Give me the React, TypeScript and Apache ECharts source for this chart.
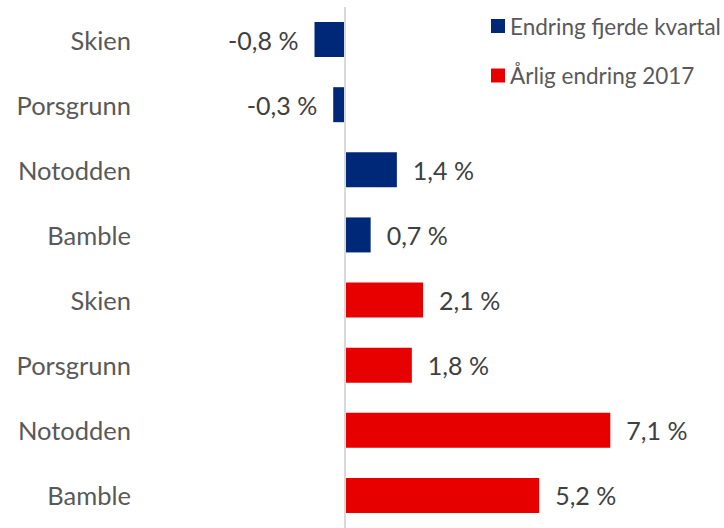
import React, { useEffect, useRef } from "react";
import * as echarts from "echarts";

const categories = ["Skien", "Porsgrunn", "Notodden", "Bamble", "Skien", "Porsgrunn", "Notodden", "Bamble"];
const quarterChange = [-0.8, -0.3, 1.4, 0.7, null, null, null, null];
const annualChange = [null, null, null, null, 2.1, 1.8, 7.1, 5.2];
const seriesNames = ["Endring fjerde kvartal", "Årlig endring 2017"];

const FONT = "Lato";

function toItems(vals: (number | null)[]) {
  return vals.map((v) =>
    v == null ? null : { value: v, label: { position: v < 0 ? "left" : "right" } }
  );
}

export default function App() {
  const ref = useRef<HTMLDivElement>(null);
  useEffect(() => {
    const chart = echarts.init(ref.current!, undefined, { renderer: "svg" });
    const label = {
      show: true,
      distance: 16,
      color: "#404040",
      fontFamily: FONT,
      fontSize: 25,
      formatter: (p: any) => p.value.toFixed(1).replace(".", ",") + " %",
    };
    chart.setOption({
      animation: false,
      textStyle: { fontFamily: FONT },
      grid: { left: 307, width: 337, top: 7, height: 524 },
      legend: {
        orient: "vertical",
        left: 491,
        top: 13,
        padding: 0,
        itemWidth: 14,
        itemHeight: 14,
        itemGap: 23.5,
        icon: "rect",
        textStyle: { color: "#595959", fontSize: 22.5, fontFamily: FONT, lineHeight: 26 },
        data: seriesNames,
      },
      xAxis: {
        type: "value",
        min: -1,
        max: 8,
        show: false,
      },
      yAxis: {
        type: "category",
        inverse: true,
        data: categories,
        axisLine: { show: false },
        axisTick: { show: false },
        splitLine: { show: false },
        axisLabel: {
          margin: 176,
          color: "#595959",
          fontSize: 25.5,
          fontFamily: FONT,
        },
      },
      series: [
        {
          name: seriesNames[0],
          type: "bar",
          data: toItems(quarterChange),
          barWidth: 35,
          barGap: "-100%",
          itemStyle: { color: "#002878" },
          label,
          markLine: {
            silent: true,
            symbol: "none",
            label: { show: false },
            lineStyle: { color: "#d9d9d9", width: 2, type: "solid" },
            data: [{ xAxis: 0 }],
          },
        },
        {
          name: seriesNames[1],
          type: "bar",
          data: toItems(annualChange),
          barWidth: 35,
          barGap: "-100%",
          itemStyle: { color: "#e60000" },
          label,
        },
      ],
    });
    return () => chart.dispose();
  }, []);
  return (
    <div
      ref={ref}
      style={{ position: "absolute", left: 0, top: 0, width: 724, height: 528, background: "#fff" }}
    />
  );
}
